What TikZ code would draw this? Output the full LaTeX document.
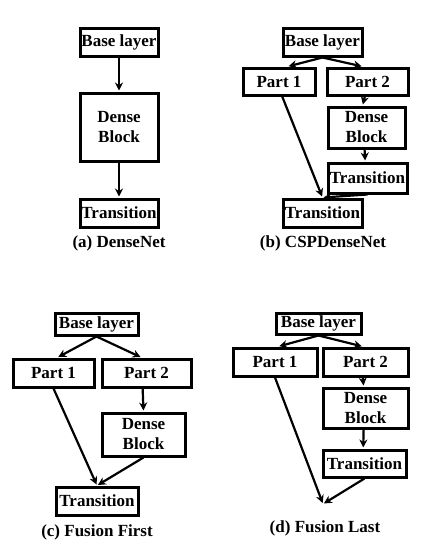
\documentclass[tikz,border=0pt]{standalone}
\usepackage{fontspec}
\setmainfont{Liberation Serif}
\usetikzlibrary{arrows.meta}
\tikzset{
  blk/.style={draw, line width=3pt, inner sep=0pt, align=center, font=\bfseries},
  arr/.style={-{Stealth[length=8pt,width=8pt]}, line width=2.2pt, shorten >=1pt},
  captxt/.style={font=\bfseries}
}
\begin{document}
\fontsize{17}{20}\selectfont
\begin{tikzpicture}[x=1pt,y=-1pt]
	\useasboundingbox (0,0) rectangle (429,554);
	% (a) DenseNet
	\node[blk, minimum width=78pt, minimum height=28pt] (abase) at (119,42) {Base layer};
	\node[blk, minimum width=78pt, minimum height=68pt] (adense) at (119,127) {Dense\\Block};
	\node[blk, minimum width=78pt, minimum height=28pt] (atrans) at (119,213) {Transition};
	\draw[arr] (abase) -- (adense);
	\draw[arr] (adense) -- (atrans);
	\node[captxt] (acap) at (119,243) {(a) DenseNet};
	% (b) CSPDenseNet
	\node[blk, minimum width=79pt, minimum height=28pt] (bbase) at (322.5,42) {Base layer};
	\node[blk, minimum width=72pt, minimum height=27pt] (bpa) at (279,81.5) {Part 1};
	\node[blk, minimum width=81pt, minimum height=27pt] (bpb) at (367.5,81.5) {Part 2};
	\node[blk, minimum width=77pt, minimum height=41pt] (bdense) at (366.5,127.5) {Dense\\Block};
	\node[blk, minimum width=79pt, minimum height=30pt] (btr) at (367.5,178) {Transition};
	\node[blk, minimum width=79pt, minimum height=28pt] (btrans) at (322.5,213) {Transition};
	\draw[arr] (bbase.south) -- (bpa.60);
	\draw[arr] (bbase.south) -- (bpb.108);
	\draw[arr] (bpb.-100) -- (bdense.100);
	\draw[arr] (bdense.-95) -- (btr.98);
	\draw[arr] (bpa.-78) -- (btrans.north);
	\draw[arr] (btr.south) -- (btrans.north);
	\node[captxt] (bcap) at (323,243) {(b) CSPDenseNet};
	% (c) Fusion First
	\node[blk, minimum width=83pt, minimum height=22pt] (cbase) at (96.5,324) {Base layer};
	\node[blk, minimum width=81pt, minimum height=28pt] (cpa) at (53.5,373) {Part 1};
	\node[blk, minimum width=89pt, minimum height=28pt] (cpb) at (146.5,373) {Part 2};
	\node[blk, minimum width=83pt, minimum height=43pt] (cdense) at (143.5,434.5) {Dense\\Block};
	\node[blk, minimum width=82pt, minimum height=28pt] (ctrans) at (97,501) {Transition};
	\draw[arr] (cbase.south) -- (cpa.76);
	\draw[arr] (cbase.south) -- (cpb.108);
	\draw[arr] (cpb.-104) -- (cdense.north);
	\draw[arr] (cpa.south) -- (ctrans.north);
	\draw[arr] (cdense.south) -- (ctrans.north);
	\node[captxt] (ccap) at (97,532) {(c) Fusion First};
	% (d) Fusion Last
	\node[blk, minimum width=85pt, minimum height=21pt] (dbase) at (318.5,323.5) {Base layer};
	\node[blk, minimum width=84pt, minimum height=28pt] (dpa) at (275,362) {Part 1};
	\node[blk, minimum width=85pt, minimum height=28pt] (dpb) at (365.5,362) {Part 2};
	\node[blk, minimum width=85pt, minimum height=40pt] (ddense) at (365.5,408) {Dense\\Block};
	\node[blk, minimum width=83pt, minimum height=27pt] (dtrans) at (364.5,463.5) {Transition};
	\coordinate (dend) at (323,504);
	\draw[arr] (dbase.south) -- (dpa.78);
	\draw[arr] (dbase.south) -- (dpb.100);
	\draw[arr] (dpb.-100) -- (ddense.95);
	\draw[arr] (ddense.-95) -- (dtrans.95);
	\draw[arr] (dpa.south) -- (dend);
	\draw[arr] (dtrans.south) -- (dend);
	\node[captxt] (dcap) at (325,528) {(d) Fusion Last};
\end{tikzpicture}
\end{document}
